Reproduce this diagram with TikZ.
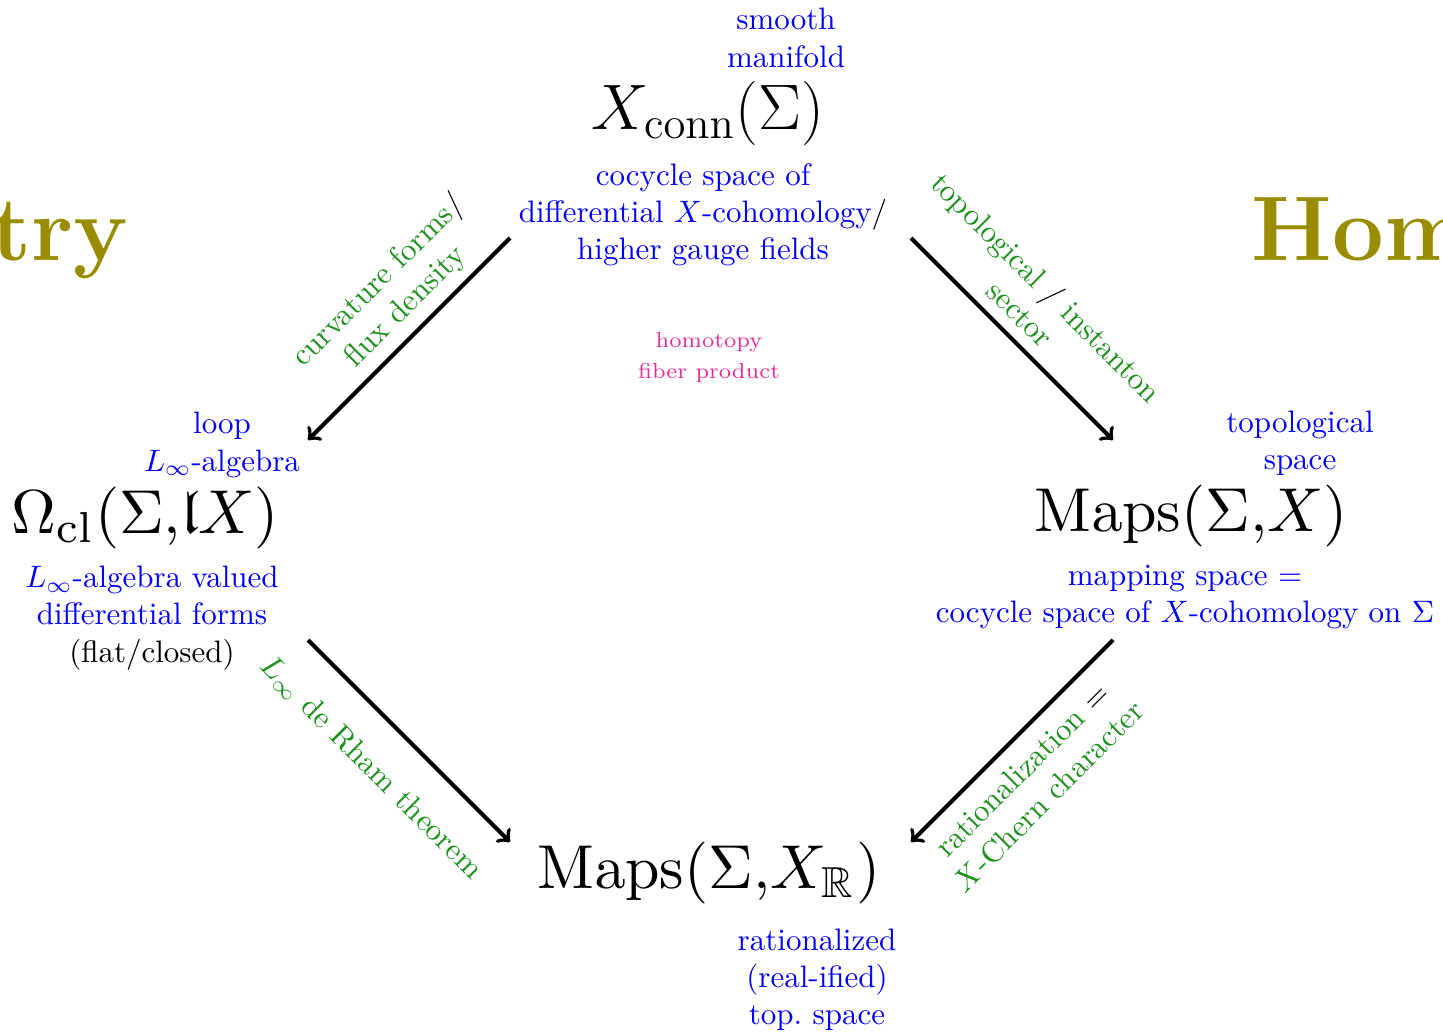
\documentclass[tikz,border=0pt]{standalone}
\usepackage{amssymb}
\definecolor{cblue}{RGB}{0,0,255}
\definecolor{cgreen}{RGB}{30,145,30}
\definecolor{cpink}{RGB}{235,40,150}
\definecolor{colive}{RGB}{153,140,0}
\tikzset{
  big/.style={inner sep=0pt, scale=2},
  bigtop/.style={inner sep=0pt, font=\fontsize{20.74}{25}\selectfont},
  note/.style={inner sep=0pt, align=center, text=cblue},
  arrlabel/.style={inner sep=0pt, align=center, text=cgreen},
  fiber/.style={inner sep=0pt, align=center, text=cpink, font=\fontsize{7}{10}\selectfont},
  title/.style={inner sep=0pt, text=colive, font=\fontsize{29.6}{34}\selectfont\bfseries},
  arr/.style={->, line width=1.3pt, black},
}
\begin{document}
\begin{tikzpicture}[x=0.3226pt, y=-0.3226pt]
\useasboundingbox (0,0) rectangle (1443,1033);
\clip (0,0) rectangle (1443,1033);

% titles (partly outside the frame)
\node[title, anchor=base east] (geo) at (129,261) {Geometry};
\node[title, anchor=base west] (hom) at (1251,261) {Homotopy};

% main objects
\node[bigtop] (top) at (708,113) {$X_{\mathrm{conn}}(\Sigma)$};
\node[big] (left) at (145,518) {$\Omega_{\mathrm{cl}}(\Sigma{,}\mathfrak{l}X)$};
\node[big] (right) at (1191,516) {$\mathrm{Maps}(\Sigma{,}X)$};
\node[big] (bottom) at (709,873) {$\mathrm{Maps}(\Sigma{,}X_{\mathbb{R}})$};

% annotations
\node[note] (topup) at (786,38) {smooth\\manifold};
\node[note] (topdown) at (703,215) {cocycle space of\\differential $X$-cohomology{\color{black}/}\\higher gauge fields};
\node[note] (leftup) at (222,445) {loop\\$L_\infty$-algebra};
\node[note] (leftdown) at (152,618) {$L_\infty$-algebra valued\\differential forms\\{\color{black}(flat/closed)}};
\node[note] (rightup) at (1300,443) {topological\\space};
\node[note] (rightdown) at (1185,597) {mapping space $=$\\cocycle space of $X$-cohomology on $\Sigma$};
\node[note] (bottomdown) at (817,980) {rationalized\\(real-ified)\\top.\ space};
\node[fiber] (fib) at (709,358) {homotopy\\fiber product};

% arrows
\coordinate (tl1) at (510,238);
\coordinate (tl2) at (308,440);
\coordinate (tr1) at (911,238);
\coordinate (tr2) at (1113,440);
\coordinate (bl1) at (308,640);
\coordinate (bl2) at (510,842);
\coordinate (br1) at (1113,640);
\coordinate (br2) at (911,842);
\draw[arr] (tl1) -- (tl2);
\draw[arr] (tr1) -- (tr2);
\draw[arr] (bl1) -- (bl2);
\draw[arr] (br1) -- (br2);

% arrow labels
\node[arrlabel, rotate=45] (ltl) at (392,294) {curvature forms{\color{black}/}\\flux density};
\node[arrlabel, rotate=-45] (ltr) at (1034,300) {topological {\color{black}/} instanton\\sector};
\node[arrlabel, rotate=-45] (lbl) at (371,768) {$L_\infty$ de Rham theorem};
\node[arrlabel, rotate=45] (lbr) at (1035,783) {rationalization {\color{black}$=$}\\$X$-Chern character};
\end{tikzpicture}
\end{document}
